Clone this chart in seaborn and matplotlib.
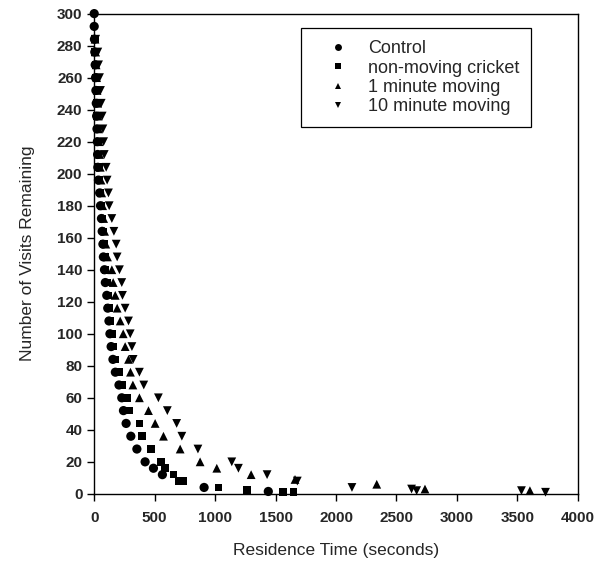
import numpy as np
import pandas as pd
import matplotlib
import seaborn as sns

matplotlib.use("Agg")
from matplotlib import pyplot as plt

# y levels (every 8 visits down to 20, then the sparse tail)
control_levels = list(range(300, 19, -8))
other_levels = list(range(284, 19, -8))

control_x = [0, 0, 2, 5, 8, 11, 14, 17, 20, 23, 26, 28, 30, 35, 45, 52, 60, 66,
             72, 76, 85, 92, 104, 112, 122, 130, 140, 155, 175, 205, 228, 242,
             264, 303, 353, 421, 490, 564, 909, 1440]
control_y = control_levels + [16, 12, 4, 1.5]

cricket_x = [5, 8, 12, 15, 18, 22, 25, 28, 31, 35, 38, 44, 52, 60, 68, 76,
             82, 88, 95, 104, 112, 122, 135, 146, 157, 175, 205, 228, 270, 292,
             374, 394, 470, 551, 587, 655, 697, 738, 1027, 1262, 1564, 1647]
cricket_y = other_levels + [16, 12, 8, 8, 4, 2.5, 1, 1]

moving1_x = [7, 12, 16, 20, 24, 28, 32, 36, 40, 45, 50, 56, 62, 70, 78, 86,
             96, 110, 146, 157, 174, 190, 215, 240, 256, 284, 300, 320, 374, 449,
             504, 573, 711, 876, 1014, 1298, 1661, 2337, 2736, 3604]
moving1_y = other_levels + [16, 12, 9, 6, 3, 2]

moving10_x = [12, 30, 36, 44, 52, 58, 66, 72, 78, 83, 99, 107, 118, 124,
              146, 163, 182, 190, 209, 228, 234, 256, 284, 298, 312, 322, 374,
              410, 531, 605, 682, 725, 858, 1138, 1193, 1430, 1680, 2132, 2625,
              2667, 3534, 3733]
moving10_y = other_levels + [16, 12, 8, 4, 3, 2, 2, 1]

group_names = ["Control", "non-moving cricket", "1 minute moving", "10 minute moving"]
group_markers = ["o", "s", "^", "v"]
group_sizes = [44, 30, 40, 40]

# drawn last-to-first so the control circles sit on top where points overlap
df = pd.concat(
    [
        pd.DataFrame({"time": moving10_x, "visits": moving10_y, "group": group_names[3]}),
        pd.DataFrame({"time": moving1_x, "visits": moving1_y, "group": group_names[2]}),
        pd.DataFrame({"time": cricket_x, "visits": cricket_y, "group": group_names[1]}),
        pd.DataFrame({"time": control_x, "visits": control_y, "group": group_names[0]}),
    ],
    ignore_index=True,
)

sns.set_theme(style="ticks")
plt.rcParams["font.family"] = ["Liberation Sans", "DejaVu Sans"]

fig = plt.figure(figsize=(6, 5.67), dpi=100)
ax = fig.add_axes([0.157, 0.129, 0.806, 0.847])

sns.scatterplot(
    data=df,
    x="time",
    y="visits",
    style="group",
    style_order=group_names,
    markers=dict(zip(group_names, group_markers)),
    size="group",
    size_order=group_names,
    sizes=dict(zip(group_names, group_sizes)),
    color="black",
    linewidth=0,
    clip_on=False,
    zorder=3,
    ax=ax,
)

ax.set_xlim(0, 4000)
ax.set_ylim(0, 300)
ax.set_xticks(np.arange(0, 4001, 500))
ax.set_yticks(np.arange(0, 301, 20))
ax.tick_params(axis="both", labelsize=11, length=5, width=1, color="black", direction="out")
ax.tick_params(axis="x", pad=7)
for label in ax.get_xticklabels() + ax.get_yticklabels():
    label.set_fontweight("bold")
for side in ["top", "right", "left", "bottom"]:
    ax.spines[side].set_visible(True)
    ax.spines[side].set_color("black")
    ax.spines[side].set_linewidth(1)

ax.set_xlabel("Residence Time (seconds)", fontsize=12.5, labelpad=13)
ax.set_ylabel("Number of Visits Remaining", fontsize=12.5, labelpad=16)

handles, labels = ax.get_legend_handles_labels()
ax.legend(
    handles,
    labels,
    loc="upper left",
    bbox_to_anchor=(0.428, 0.969),
    frameon=True,
    fancybox=False,
    edgecolor="black",
    framealpha=1,
    fontsize=13,
    markerscale=0.75,
    handlelength=2.8,
    handletextpad=0.25,
    borderpad=0.65,
    labelspacing=0.13,
    borderaxespad=0,
)
ax.get_legend().get_frame().set_linewidth(0.9)

fig.savefig("out.png", dpi=100)
plt.close(fig)
